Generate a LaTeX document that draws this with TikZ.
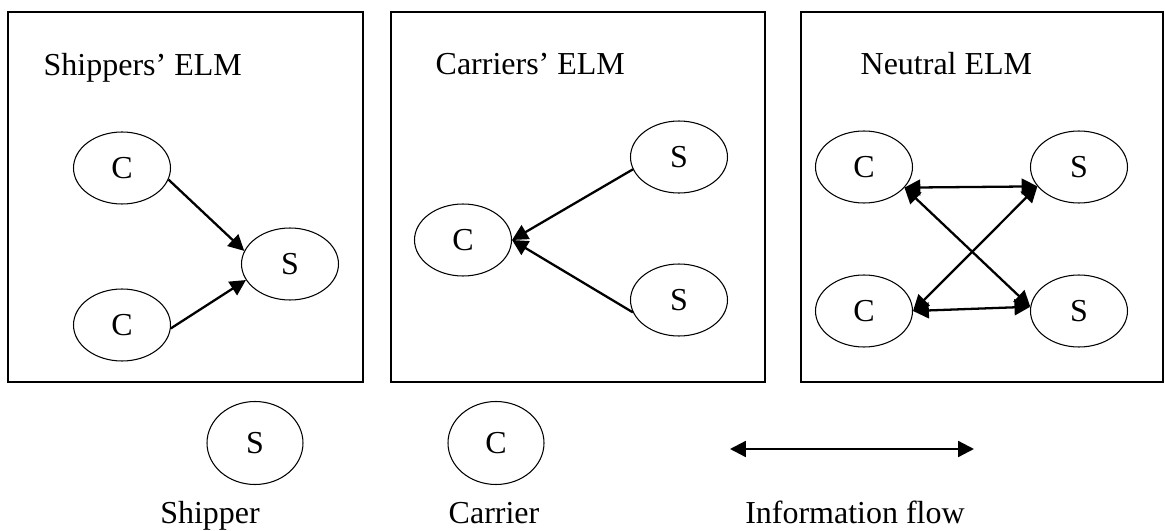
\documentclass[tikz,border=0pt]{standalone}
\usepackage{fontspec}
\setmainfont{Liberation Serif}
\usepackage{tikz}
\usetikzlibrary{positioning, arrows.meta, shapes.geometric}

\begin{document}
\begin{tikzpicture}[>={Triangle[length=4.5pt, width=4.5pt]},
  every node/.style={font=\fontsize{9.1}{11}\selectfont},
  agent/.style={ellipse, draw, line width=0.3pt, inner sep=0pt,
    minimum width=0.97cm, minimum height=0.72cm},
  legendagent/.style={agent, minimum width=0.96cm, minimum height=0.83cm},
  flow/.style={line width=0.65pt},
  panel/.style={line width=0.4pt}]

\useasboundingbox (0, 0) rectangle (11.65, -5.31);

% --- Panels ---
\draw[panel] (0.08, -0.12) rectangle (3.63, -3.82);
\draw[panel] (3.91, -0.12) rectangle (7.65, -3.82);
\draw[panel] (8.01, -0.12) rectangle (11.63, -3.82);

% --- Panel titles ---
\node[anchor=base west, inner sep=0pt] (t1) at (0.43, -0.76) {Shippers’ ELM};
\node[anchor=base west, inner sep=0pt] (t2) at (4.35, -0.75) {Carriers’ ELM};
\node[anchor=base west, inner sep=0pt] (t3) at (8.60, -0.75) {Neutral ELM};

% --- Shippers' ELM: carriers send to the shipper ---
\node[agent] (c1) at (1.22, -1.68) {C};
\node[agent] (c2) at (1.22, -3.25) {C};
\node[agent] (s1) at (2.90, -2.64) {S};
\draw[flow, ->] (c1.-14) -- (s1.164);
\draw[flow, ->] (c2.-4) -- (s1.200);

% --- Carriers' ELM: shippers send to the carrier ---
\node[agent] (cc) at (4.63, -2.40) {C};
\node[agent] (sa) at (6.79, -1.57) {S};
\node[agent] (sb) at (6.79, -3.00) {S};
\draw[flow, ->] (sa.195) -- (cc.east);
\draw[flow, ->] (sb.195) -- (cc.east);

% --- Neutral ELM: flows both ways ---
\node[agent] (ct) at (8.64, -1.67) {C};
\node[agent] (cb) at (8.64, -3.11) {C};
\node[agent] (st) at (10.79, -1.67) {S};
\node[agent] (sd) at (10.79, -3.11) {S};
\draw[flow, <->] (ct.-27) -- (st.205);
\draw[flow, <->] (ct.-27) -- (sd.175);
\draw[flow, <->] (cb.east) -- (st.205);
\draw[flow, <->] (cb.east) -- (sd.175);

% --- Legend ---
\node[legendagent] (ls) at (2.55, -4.43) {S};
\node[legendagent] (lc) at (4.96, -4.43) {C};
\coordinate (fa) at (7.30, -4.49);
\coordinate (fb) at (9.74, -4.49);
\draw[flow, <->] (fa) -- (fb);

\node[anchor=base] (lsl) at (2.10, -5.24) {Shipper};
\node[anchor=base] (lcl) at (4.94, -5.24) {Carrier};
\node[anchor=base] (lfl) at (8.55, -5.24) {Information flow};

\end{tikzpicture}
\end{document}
